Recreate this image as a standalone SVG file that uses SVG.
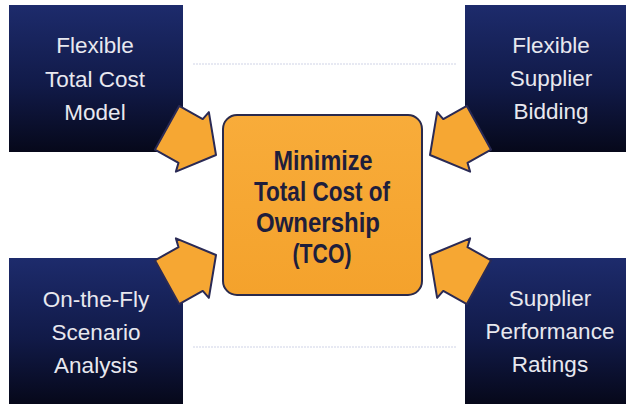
<svg xmlns="http://www.w3.org/2000/svg" width="626" height="404" viewBox="0 0 626 404">
  <defs>
    <linearGradient id="navy" x1="0" y1="0" x2="0" y2="1">
      <stop offset="0" stop-color="#1d2b6c"/>
      <stop offset="0.55" stop-color="#111a48"/>
      <stop offset="1" stop-color="#06081a"/>
    </linearGradient>
    <linearGradient id="orange" x1="0" y1="0" x2="0" y2="1">
      <stop offset="0" stop-color="#f8ac3a"/>
      <stop offset="1" stop-color="#f4a22c"/>
    </linearGradient>
    <polygon id="arrow" points="0,0 -27,34 -29,25 -56,25 -56,-25 -29,-25 -27,-34"/>
    <style>
      .box { fill: url(#navy); }
      .side { font-family: "Liberation Sans", Arial, sans-serif; font-size: 22.5px; fill: #e8e8ef; text-anchor: middle; }
      .center { fill: url(#orange); stroke: #2a2a4c; stroke-width: 2; }
      .ctext { font-family: "Liberation Sans", Arial, sans-serif; font-size: 28px; font-weight: bold; fill: #1e1e3c; text-anchor: middle; }
      .arr { fill: #f6a733; stroke: #2a2a55; stroke-width: 2; stroke-linejoin: round; }
      .guide { stroke: #cfd3e6; stroke-width: 1; stroke-dasharray: 2 1; fill: none; }
    </style>
  </defs>
  <rect width="626" height="404" fill="#ffffff"/>

  <g id="guides">
    <line class="guide" x1="193" y1="64" x2="457" y2="64"/>
    <line class="guide" x1="193" y1="347" x2="457" y2="347"/>
  </g>

  <g id="node-flexible-tcm">
    <rect class="box" x="9" y="5" width="174" height="147"/>
    <text class="side" x="95" y="53">Flexible</text>
    <text class="side" x="95" y="87">Total Cost</text>
    <text class="side" x="95" y="120">Model</text>
  </g>

  <g id="node-flexible-bidding">
    <rect class="box" x="465" y="5" width="161" height="147"/>
    <text class="side" x="551" y="53">Flexible</text>
    <text class="side" x="551" y="86">Supplier</text>
    <text class="side" x="551" y="119">Bidding</text>
  </g>

  <g id="node-scenario">
    <rect class="box" x="9" y="258" width="174" height="146"/>
    <text class="side" x="96" y="307">On-the-Fly</text>
    <text class="side" x="96" y="340">Scenario</text>
    <text class="side" x="96" y="373">Analysis</text>
  </g>

  <g id="node-ratings">
    <rect class="box" x="465" y="258" width="161" height="146"/>
    <text class="side" x="550" y="306">Supplier</text>
    <text class="side" x="550" y="339">Performance</text>
    <text class="side" x="550" y="372">Ratings</text>
  </g>

  <g id="node-center">
    <rect class="center" x="223" y="115" width="199" height="180" rx="14" ry="14"/>
    <text class="ctext" x="323" y="170" textLength="99" lengthAdjust="spacingAndGlyphs">Minimize</text>
    <text class="ctext" x="322" y="201" textLength="136" lengthAdjust="spacingAndGlyphs">Total Cost of</text>
    <text class="ctext" x="318" y="232" textLength="124" lengthAdjust="spacingAndGlyphs">Ownership</text>
    <text class="ctext" x="322" y="263" textLength="59" lengthAdjust="spacingAndGlyphs">(TCO)</text>
  </g>

  <g id="connectors">
    <use href="#arrow" class="arr" transform="translate(216,155) rotate(29)"/>
    <use href="#arrow" class="arr" transform="translate(430,155) scale(-1,1) rotate(29)"/>
    <use href="#arrow" class="arr" transform="translate(216,255) scale(1,-1) rotate(29)"/>
    <use href="#arrow" class="arr" transform="translate(430,255) scale(-1,-1) rotate(29)"/>
  </g>
</svg>
